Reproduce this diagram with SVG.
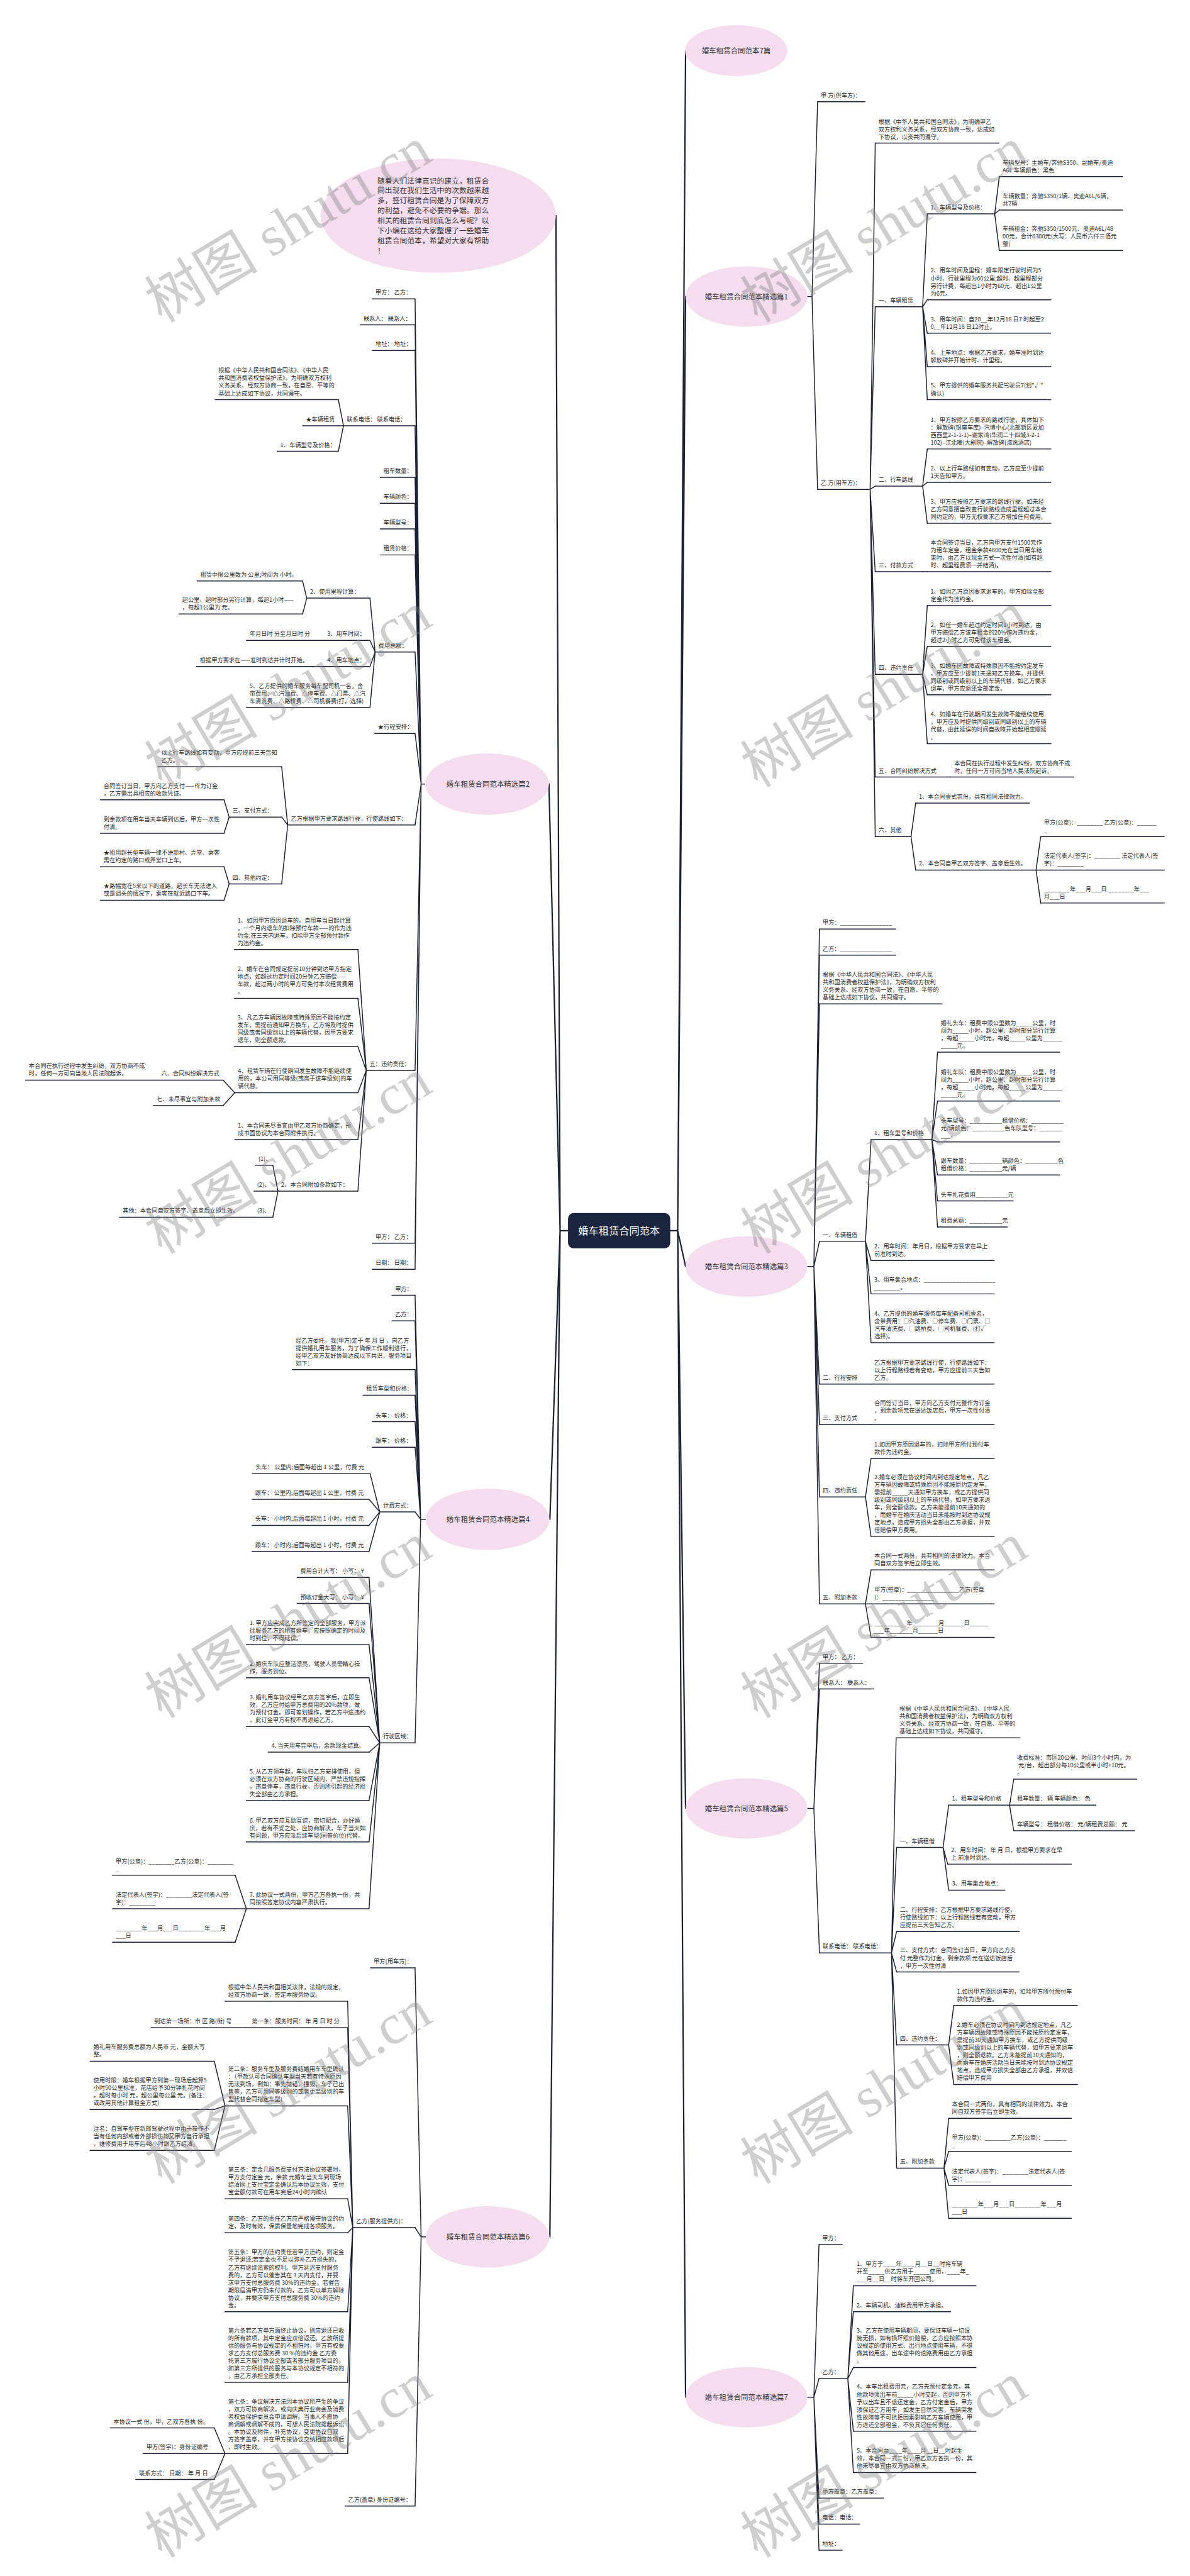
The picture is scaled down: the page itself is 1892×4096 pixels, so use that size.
<svg xmlns="http://www.w3.org/2000/svg" width="1892" height="4096" viewBox="0 0 1892 4096">
<style>
.t{font-family:"Noto Sans CJK SC","Noto Sans",sans-serif;font-size:12.5px;fill:#2b2b2b}
.u{stroke:#1c2233;stroke-width:2;fill:none;stroke-linecap:round}
.c{stroke:#1c2233;stroke-width:2;fill:none;stroke-linecap:round}
.tr{stroke:#1c2233;stroke-width:3;fill:none;stroke-linecap:round}
.el{fill:#f5dcef}
.et{font-family:"Noto Sans CJK SC","Noto Sans",sans-serif;font-size:15.5px;fill:#333;text-anchor:middle}
.st{font-family:"Noto Sans CJK SC","Noto Sans",sans-serif;font-size:16px;fill:#333}
.wm{font-family:"Liberation Serif","Noto Sans CJK SC",serif;font-size:122px;fill:#808080;opacity:.38}
</style>
<rect width="1892" height="4096" fill="#fff"/>
<g transform="scale(0.739)">
<g id="connectors">
<path class="tr" d="M1442 2648H1458 M1458 2648L1475 109 M1458 2648L1475 638 M1458 2648L1475 2725 M1458 2648L1475 3891 M1458 2648L1475 5158"/>
<path class="tr" d="M1222 2648H1205 M1205 2648L1196 464 M1205 2648L1181 1687 M1205 2648L1183 3269 M1205 2648L1183 4813"/>
<path class="c" d="M1737 638H1747 M1747 638L1759 219 M1747 638L1759 1053
M1872 1053L1883 308 M1872 1053L1883 660 M1872 1053L1883 1046 M1872 1053L1883 1230 M1872 1053L1883 1451 M1872 1053L1883 1672 M1872 1053L1883 1800
M1985 660L1995 460 M1985 660L1995 645 M1985 660L1995 717 M1985 660L1995 789 M1985 660L1995 860
M2140 460L2150 380 M2140 460L2150 452 M2140 460L2150 539
M1985 1046L1995 966 M1985 1046L1995 1038 M1985 1046L1995 1126
M1985 1230H1995
M1985 1451L1995 1303 M1985 1451L1995 1391 M1985 1451L1995 1495 M1985 1451L1995 1600
M1960 1800L1970 1728 M1960 1800L1970 1872
M2229 1872L2239 1800 M2229 1872H2239 M2229 1872L2239 1943"/>
<path class="c" d="M1737 2725H1751 M1751 2725L1763 1999 M1751 2725L1763 2055 M1751 2725L1763 2160 M1751 2725L1763 2671 M1751 2725L1763 2978 M1751 2725L1763 3065 M1751 2725L1763 3221 M1751 2725L1763 3451
M1862 2671L1874 2452 M1862 2671L1874 2712 M1862 2671L1874 2784 M1862 2671L1874 2889
M2005 2452L2017 2264 M2005 2452L2017 2369 M2005 2452L2017 2457 M2005 2452L2017 2528 M2005 2452L2017 2584 M2005 2452L2017 2640
M1862 3221L1874 3138 M1862 3221L1874 3306
M1862 3451L1874 3378 M1862 3451H1874 M1862 3451L1874 3523"/>
<path class="c" d="M1737 3891H1751 M1751 3891L1763 3579 M1751 3891L1763 3634 M1751 3891L1763 4202
M1918 4202L1928 3739 M1918 4202L1929 3975 M1918 4202L1929 4156 M1918 4202L1929 4243 M1918 4202L1929 4400 M1918 4202L1929 4665
M2029 3975L2041 3884 M2029 3975L2039 4011 M2029 3975L2041 4067
M2172 3884L2181 3828 M2172 3884H2181 M2172 3884L2181 3939
M2041 4400L2052 4315 M2041 4400L2052 4485
M2031 4665L2041 4558 M2031 4665L2041 4629 M2031 4665L2041 4702 M2031 4665L2041 4773"/>
<path class="c" d="M1737 5158H1751 M1751 5158L1762 4829 M1751 5158L1762 5118 M1751 5158L1762 5375 M1751 5158L1762 5431 M1751 5158L1762 5487
M1824 5118L1836 4918 M1824 5118L1836 4974 M1824 5118L1836 5094 M1824 5118L1836 5231 M1824 5118L1836 5320"/>
<path class="c" d="M914 1687H906 M906 1687L893 643 M906 1687L893 699 M906 1687L893 754 M906 1687L893 916 M906 1687L893 1027 M906 1687L893 1083 M906 1687L893 1138 M906 1687L893 1194 M906 1687L893 1403 M906 1687L893 1578 M906 1687L893 1775 M906 1687L893 2303 M906 1687L893 2675 M906 1687L893 2731
M739 916L728 860 M739 916H728 M739 916L728 971
M807 1403L796 1287 M807 1403L796 1378 M807 1403L796 1434 M807 1403L796 1522
M660 1287L651 1250 M660 1287L651 1321
M619 1775L606 1650 M619 1775L606 1758 M619 1775L606 1902
M493 1758L482 1721 M493 1758L482 1793
M493 1902L482 1865 M493 1902L482 1937
M788 2303L770 2043 M788 2303L770 2148 M788 2303L770 2252 M788 2303L770 2351 M788 2303L770 2452 M788 2303L770 2563
M505 2351L480 2324 M505 2351L480 2379
M598 2563L587 2507 M598 2563H587 M598 2563L587 2619"/>
<path class="c" d="M916 3269H905 M905 3269L893 2787 M905 3269L893 2842 M905 3269L893 2947 M905 3269L893 3002 M905 3269L893 3059 M905 3269L893 3114 M905 3269L893 3253 M905 3269L893 3750
M817 3253L796 3170 M817 3253L794 3226 M817 3253L794 3282 M817 3253L794 3338
M817 3750L794 3394 M817 3750L794 3450 M817 3750L794 3539 M817 3750L794 3610 M817 3750L794 3715 M817 3750L794 3770 M817 3750L794 3874 M817 3750L794 3963 M817 3750L794 4107
M530 4107L506 4035 M530 4107H506 M530 4107L506 4179"/>
<path class="c" d="M917 4813H906 M906 4813L893 4234 M906 4813L893 4793 M906 4813L893 5392
M759 4793L748 4306 M759 4793L748 4363 M759 4793L748 4531 M759 4793L748 4731 M759 4793L748 4804 M759 4793L748 4974 M759 4793L748 5126 M759 4793L748 5279
M535 4363H528
M484 4531L461 4435 M484 4531L461 4539 M484 4531L461 4627
M484 5279L461 5224 M484 5279L469 5279 M484 5279L461 5335"/>
</g>

<g id="center"><rect x="1222" y="2610" width="220" height="76" rx="12" fill="#1b2540"/><text x="1332" y="2656" font-family="Noto Sans CJK SC, sans-serif" font-size="22" fill="#fff" text-anchor="middle">婚车租赁合同范本</text></g>

<g id="summary"><ellipse class="el" cx="943" cy="464" rx="253" ry="123"/><text class="st" x="812" y="394.5">随着人们法律意识的建立，租赁合<tspan x="812" dy="21.6">同出现在我们生活中的次数越来越</tspan><tspan x="812" dy="21.6">多，签订租赁合同是为了保障双方</tspan><tspan x="812" dy="21.6">的利益，避免不必要的争端。那么</tspan><tspan x="812" dy="21.6">相关的租赁合同到底怎么写呢？以</tspan><tspan x="812" dy="21.6">下小编在这给大家整理了一些婚车</tspan><tspan x="812" dy="21.6">租赁合同范本，希望对大家有帮助</tspan><tspan x="812" dy="21.6">！</tspan></text></g>

<g id="e0"><ellipse class="el" cx="1584" cy="109" rx="110" ry="55"/><text class="et" x="1584" y="114.5">婚车租赁合同范本7篇</text></g>
<g id="e1"><ellipse class="el" cx="1606" cy="638" rx="131" ry="65"/><text class="et" x="1606" y="643.5">婚车租赁合同范本精选篇1</text></g>
<g id="e3"><ellipse class="el" cx="1606" cy="2725" rx="131" ry="65"/><text class="et" x="1606" y="2730.5">婚车租赁合同范本精选篇3</text></g>
<g id="e5"><ellipse class="el" cx="1606" cy="3891" rx="131" ry="65"/><text class="et" x="1606" y="3896.5">婚车租赁合同范本精选篇5</text></g>
<g id="e7"><ellipse class="el" cx="1606" cy="5158" rx="131" ry="65"/><text class="et" x="1606" y="5163.5">婚车租赁合同范本精选篇7</text></g>
<g id="e2"><ellipse class="el" cx="1048" cy="1687" rx="133" ry="66"/><text class="et" x="1050" y="1692.5">婚车租赁合同范本精选篇2</text></g>
<g id="e4"><ellipse class="el" cx="1049" cy="3269" rx="133" ry="66"/><text class="et" x="1050" y="3274.5">婚车租赁合同范本精选篇4</text></g>
<g id="e6"><ellipse class="el" cx="1049" cy="4813" rx="133" ry="66"/><text class="et" x="1050" y="4818.5">婚车租赁合同范本精选篇6</text></g>

<!-- 篇1 -->
<g id="r1a"><text class="t" x="1766" y="209.5">甲 方(供车方)：</text><path class="u" d="M1759 219H1861"/></g>
<g id="r1b"><text class="t" x="1766" y="1043.5">乙 方(用车方)：</text><path class="u" d="M1759 1053H1872"/></g>
<g id="r1b1"><text class="t" x="1890" y="265.9">根据《中华人民共和国合同法》，为明确甲乙<tspan x="1890" dy="16.3">双方权利义务关系，经双方协商一致，达成如</tspan><tspan x="1890" dy="16.3">下协议，以资共同遵守。</tspan></text><path class="u" d="M1883 308H2149"/></g>
<g id="r1b2"><text class="t" x="1890" y="650.5">一、车辆租赁</text><path class="u" d="M1883 660H1985"/></g>
<g id="r1b2a"><text class="t" x="2002" y="450.5">1、车辆型号及价格：</text><path class="u" d="M1995 460H2140"/></g>
<g id="r1b2a1"><text class="t" x="2157" y="354.2">车辆型号：主婚车/奔驰S350、副婚车/奥迪<tspan x="2157" dy="16.3">A6L 车辆颜色：黑色</tspan></text><path class="u" d="M2150 380H2415"/></g>
<g id="r1b2a2"><text class="t" x="2157" y="426.2">车辆数量：奔驰S350/1辆、奥迪A6L/6辆，<tspan x="2157" dy="16.3">共7辆</tspan></text><path class="u" d="M2150 452H2415"/></g>
<g id="r1b2a3"><text class="t" x="2157" y="496.9">车辆租金：奔驰S350/1500元、奥迪A6L/48<tspan x="2157" dy="16.3">00元，合计6300元(大写：人民币六仟三佰元</tspan><tspan x="2157" dy="16.3">整)</tspan></text><path class="u" d="M2150 539H2415"/></g>
<g id="r1b2b"><text class="t" x="2002" y="586.6">2、用车时间及里程：婚车限定行驶时间为5<tspan x="2002" dy="16.3">小时、行驶里程为60公里;超时、超里程部分</tspan><tspan x="2002" dy="16.3">另行计费，每超出1小时为60元、超出1公里</tspan><tspan x="2002" dy="16.3">为6元。</tspan></text><path class="u" d="M1995 645H2261"/></g>
<g id="r1b2c"><text class="t" x="2002" y="691.2">3、用车时间：自20__年12月18 日7 时起至2<tspan x="2002" dy="16.3">0__年12月18 日12时止。</tspan></text><path class="u" d="M1995 717H2261"/></g>
<g id="r1b2d"><text class="t" x="2002" y="763.2">4、上车地点：根据乙方要求，婚车准时到达<tspan x="2002" dy="16.3">解放碑并开始计时、计里程。</tspan></text><path class="u" d="M1995 789H2261"/></g>
<g id="r1b2e"><text class="t" x="2002" y="834.2">5、甲方提供的婚车服务共配驾驶员7(划"√"<tspan x="2002" dy="16.3">确认)</tspan></text><path class="u" d="M1995 860H2261"/></g>
<g id="r1b3"><text class="t" x="1890" y="1036.5">二、行车路线</text><path class="u" d="M1883 1046H1985"/></g>
<g id="r1b3a"><text class="t" x="2002" y="907.6">1、甲方按照乙方要求的路线行驶，具体如下<tspan x="2002" dy="16.3">：解放碑(银座车库)–汽博中心(北部新区爱加</tspan><tspan x="2002" dy="16.3">西西里2-1-1-1)–谢家湾(华润二十四城3-2-1</tspan><tspan x="2002" dy="16.3">102)–江北嘴(大剧院)–解放碑(海逸酒店)</tspan></text><path class="u" d="M1995 966H2261"/></g>
<g id="r1b3b"><text class="t" x="2002" y="1012.2">2、以上行车路线如有变动，乙方应至少提前<tspan x="2002" dy="16.3">1天告知甲方。</tspan></text><path class="u" d="M1995 1038H2261"/></g>
<g id="r1b3c"><text class="t" x="2002" y="1083.9">3、甲方应按照乙方要求的路线行驶，如未经<tspan x="2002" dy="16.3">乙方同意擅自改变行驶路线造成里程超过本合</tspan><tspan x="2002" dy="16.3">同约定的，甲方无权要求乙方增加任何费用。</tspan></text><path class="u" d="M1995 1126H2261"/></g>
<g id="r1b4"><text class="t" x="1890" y="1220.5">三、付款方式</text><path class="u" d="M1883 1230H1985"/></g>
<g id="r1b4a"><text class="t" x="2002" y="1171.6">本合同签订当日，乙方向甲方支付1500元作<tspan x="2002" dy="16.3">为租车定金，租金余款4800元在当日用车结</tspan><tspan x="2002" dy="16.3">束时，由乙方以现金方式一次性付清(如有超</tspan><tspan x="2002" dy="16.3">时、超里程费须一并结清)。</tspan></text><path class="u" d="M1995 1230H2261"/></g>
<g id="r1b5"><text class="t" x="1890" y="1441.5">四、违约责任</text><path class="u" d="M1883 1451H1985"/></g>
<g id="r1b5a"><text class="t" x="2002" y="1277.2">1、如因乙方原因要求退车的，甲方扣除全部<tspan x="2002" dy="16.3">定金作为违约金。</tspan></text><path class="u" d="M1995 1303H2261"/></g>
<g id="r1b5b"><text class="t" x="2002" y="1348.9">2、如任一婚车超过约定时间1小时到达，由<tspan x="2002" dy="16.3">甲方赔偿乙方该车租金的20%作为违约金，</tspan><tspan x="2002" dy="16.3">超过2小时乙方可免付该车租金。</tspan></text><path class="u" d="M1995 1391H2261"/></g>
<g id="r1b5c"><text class="t" x="2002" y="1436.6">3、如婚车因故障或特殊原因不能按约定发车<tspan x="2002" dy="16.3">，甲方应至少提前1天通知乙方换车，并提供</tspan><tspan x="2002" dy="16.3">同级别或同级别以上的车辆代替，如乙方要求</tspan><tspan x="2002" dy="16.3">退车，甲方应退还全部定金。</tspan></text><path class="u" d="M1995 1495H2261"/></g>
<g id="r1b5d"><text class="t" x="2002" y="1541.6">4、如婚车在行驶期间发生故障不能继续使用<tspan x="2002" dy="16.3">，甲方应及时提供同级别或同级别以上的车辆</tspan><tspan x="2002" dy="16.3">代替，由此延误的时间自故障开始起相应顺延</tspan><tspan x="2002" dy="16.3">。</tspan></text><path class="u" d="M1995 1600H2261"/></g>
<g id="r1b6"><text class="t" x="1890" y="1662.5">五、合同纠纷解决方式</text><path class="u" d="M1883 1672H2045"/></g>
<g id="r1b6a"><text class="t" x="2053" y="1646.2">本合同在执行过程中发生纠纷，双方协商不成<tspan x="2053" dy="16.3">时，任何一方可向当地人民法院起诉。</tspan></text><path class="u" d="M2045 1672H2310"/></g>
<g id="r1b7"><text class="t" x="1890" y="1790.5">六、其他</text><path class="u" d="M1883 1800H1960"/></g>
<g id="r1b7a"><text class="t" x="1977" y="1718.5">1、本合同壹式贰份，具有相同法律效力。</text><path class="u" d="M1970 1728H2215"/></g>
<g id="r1b7b"><text class="t" x="1977" y="1862.5">2、本合同自甲乙双方签字、盖章后生效。</text><path class="u" d="M1970 1872H2229"/></g>
<g id="r1b7b1"><text class="t" x="2246" y="1774.2">甲方(公章)：________ 乙方(公章)：______<tspan x="2246" dy="16.3">_</tspan></text><path class="u" d="M2239 1800H2505"/></g>
<g id="r1b7b2"><text class="t" x="2246" y="1846.2">法定代表人(签字)：________ 法定代表人(签<tspan x="2246" dy="16.3">字)：________</tspan></text><path class="u" d="M2239 1872H2505"/></g>
<g id="r1b7b3"><text class="t" x="2246" y="1917.2">________年___月___日 ________年___<tspan x="2246" dy="16.3">月___日</tspan></text><path class="u" d="M2239 1943H2505"/></g>

<!-- 篇3 -->
<g id="r3a"><text class="t" x="1770" y="1989.5">甲方：________________</text><path class="u" d="M1763 1999H1927"/></g>
<g id="r3b"><text class="t" x="1770" y="2045.5">乙方：________________</text><path class="u" d="M1763 2055H1927"/></g>
<g id="r3c"><text class="t" x="1770" y="2101.6">根据《中华人民共和国合同法》、《中华人民<tspan x="1770" dy="16.3">共和国消费者权益保护法》，为明确双方权利</tspan><tspan x="1770" dy="16.3">义务关系、经双方协商一致，在自愿、平等的</tspan><tspan x="1770" dy="16.3">基础上达成如下协议，共同遵守。</tspan></text><path class="u" d="M1763 2160H2027"/></g>
<g id="r3d"><text class="t" x="1770" y="2661.5">一、车辆租借</text><path class="u" d="M1763 2671H1862"/></g>
<g id="r3d1"><text class="t" x="1881" y="2442.5">1、租车型号和价格</text><path class="u" d="M1874 2452H2005"/></g>
<g id="r3d1a"><text class="t" x="2024" y="2205.6">婚礼头车：租费中限公里数为_____公里，时<tspan x="2024" dy="16.3">间为_____小时，超公里、超时部分另行计算</tspan><tspan x="2024" dy="16.3">，每超_____小时元，每超_____公里为______</tspan><tspan x="2024" dy="16.3">_____元。</tspan></text><path class="u" d="M2017 2264H2280"/></g>
<g id="r3d1b"><text class="t" x="2024" y="2310.6">婚礼车队：租费中限公里数为_____公里，时<tspan x="2024" dy="16.3">间为_____小时，超公里、超时部分另行计算</tspan><tspan x="2024" dy="16.3">，每超_____小时元，每超_____公里为______</tspan><tspan x="2024" dy="16.3">_____元。</tspan></text><path class="u" d="M2017 2369H2280"/></g>
<g id="r3d1c"><text class="t" x="2024" y="2414.9">头车型号：__________租借价格：__________<tspan x="2024" dy="16.3">元/辆颜色：__________色车队型号：_______</tspan><tspan x="2024" dy="16.3">___。</tspan></text><path class="u" d="M2017 2457H2280"/></g>
<g id="r3d1d"><text class="t" x="2024" y="2502.2">跟车数量：__________辆颜色：__________色<tspan x="2024" dy="16.3">租借价格：__________元/辆</tspan></text><path class="u" d="M2017 2528H2280"/></g>
<g id="r3d1e"><text class="t" x="2024" y="2574.5">头车扎花费用__________元</text><path class="u" d="M2017 2584H2180"/></g>
<g id="r3d1f"><text class="t" x="2024" y="2630.5">租费总额：__________元</text><path class="u" d="M2017 2640H2167"/></g>
<g id="r3d2"><text class="t" x="1881" y="2686.2">2、用车时间：年月日，根据甲方要求在早上<tspan x="1881" dy="16.3">前准时到达。</tspan></text><path class="u" d="M1874 2712H2139"/></g>
<g id="r3d3"><text class="t" x="1881" y="2758.2">3、用车集合地点：______________________<tspan x="1881" dy="16.3">________。</tspan></text><path class="u" d="M1874 2784H2139"/></g>
<g id="r3d4"><text class="t" x="1881" y="2830.6">4、乙方提供的婚车服务每车配备司机壹名，<tspan x="1881" dy="16.3">含带费用：□汽油费、□停车费、□门票、□</tspan><tspan x="1881" dy="16.3">汽车清洗费、□路桥费、□司机餐费、(打√</tspan><tspan x="1881" dy="16.3">选择)。</tspan></text><path class="u" d="M1874 2889H2139"/></g>
<g id="r3e"><text class="t" x="1770" y="2968.5">二、行程安排</text><path class="u" d="M1763 2978H1874"/></g>
<g id="r3e1"><text class="t" x="1881" y="2935.9">乙方根据甲方要求路线行使，行使路线如下：<tspan x="1881" dy="16.3">以上行程路线若有变动，甲方应提前三天告知</tspan><tspan x="1881" dy="16.3">乙方。</tspan></text><path class="u" d="M1874 2978H2139"/></g>
<g id="r3f"><text class="t" x="1770" y="3055.5">三、支付方式</text><path class="u" d="M1763 3065H1874"/></g>
<g id="r3f1"><text class="t" x="1881" y="3022.9">合同签订当日，甲方向乙方支付元整作为订金<tspan x="1881" dy="16.3">，剩余款项元在送达饭店后，甲方一次性付清</tspan><tspan x="1881" dy="16.3">。</tspan></text><path class="u" d="M1874 3065H2139"/></g>
<g id="r3g"><text class="t" x="1770" y="3211.5">四、违约责任</text><path class="u" d="M1763 3221H1862"/></g>
<g id="r3g1"><text class="t" x="1881" y="3112.2">1.如因甲方原因退车的，扣除甲方所付预付车<tspan x="1881" dy="16.3">款作为违约金。</tspan></text><path class="u" d="M1874 3138H2139"/></g>
<g id="r3g2"><text class="t" x="1881" y="3182.4">2.婚车必须在协议时间内到达规定地点，凡乙<tspan x="1881" dy="16.3">方车辆因故障或特殊原因不能按原约定发车，</tspan><tspan x="1881" dy="16.3">需提前_____天通知甲方换车，或乙方提供同</tspan><tspan x="1881" dy="16.3">级别或同级别以上的车辆代替，如甲方要求退</tspan><tspan x="1881" dy="16.3">车，则全额退款。乙方未能提前10天通知的</tspan><tspan x="1881" dy="16.3">，而婚车在婚庆活动当日未能按时到达协议规</tspan><tspan x="1881" dy="16.3">定地点，造成甲方损失全部由乙方承担，并双</tspan><tspan x="1881" dy="16.3">倍赔偿甲方费用。</tspan></text><path class="u" d="M1874 3306H2139"/></g>
<g id="r3h"><text class="t" x="1770" y="3441.5">五、附加条款</text><path class="u" d="M1763 3451H1862"/></g>
<g id="r3h1"><text class="t" x="1881" y="3352.2">本合同一式两份，具有相同的法律效力。本合<tspan x="1881" dy="16.3">同自双方签字后立即生效。</tspan></text><path class="u" d="M1874 3378H2139"/></g>
<g id="r3h2"><text class="t" x="1881" y="3425.2">甲方(签章)：________________乙方(签章<tspan x="1881" dy="16.3">)：________________</tspan></text><path class="u" d="M1874 3451H2139"/></g>
<g id="r3h3"><text class="t" x="1881" y="3497.2">__________年________月______日______<tspan x="1881" dy="16.3">___年_______月______日</tspan></text><path class="u" d="M1874 3523H2139"/></g>

<!-- 篇5 -->
<g id="r5a"><text class="t" x="1770" y="3569.5">甲方：  乙方：</text><path class="u" d="M1763 3579H1856"/></g>
<g id="r5b"><text class="t" x="1770" y="3624.5">联系人：  联系人：</text><path class="u" d="M1763 3634H1880"/></g>
<g id="r5c"><text class="t" x="1770" y="4192.5">联系电话：  联系电话：</text><path class="u" d="M1763 4202H1918"/></g>
<g id="r5c1"><text class="t" x="1935" y="3680.6">根据《中华人民共和国合同法》、《中华人民<tspan x="1935" dy="16.3">共和国消费者权益保护法》，为明确双方权利</tspan><tspan x="1935" dy="16.3">义务关系、经双方协商一致，在自愿、平等的</tspan><tspan x="1935" dy="16.3">基础上达成如下协议，共同遵守。</tspan></text><path class="u" d="M1928 3739H2194"/></g>
<g id="r5c2"><text class="t" x="1936" y="3965.5">一、车辆租借</text><path class="u" d="M1929 3975H2029"/></g>
<g id="r5c2a"><text class="t" x="2048" y="3874.5">1、租车型号和价格</text><path class="u" d="M2041 3884H2172"/></g>
<g id="r5c2a1"><text class="t" x="2188" y="3785.9">收费标准：市区20公里、时间3个小时内，为<tspan x="2188" dy="16.3"> 元/台，超出部分每10公里或半小时+10元。</tspan><tspan x="2188" dy="16.3">。</tspan></text><path class="u" d="M2181 3828H2446"/></g>
<g id="r5c2a2"><text class="t" x="2188" y="3874.5">租车数量： 辆 车辆颜色： 色</text><path class="u" d="M2181 3884H2358"/></g>
<g id="r5c2a3"><text class="t" x="2188" y="3929.5">车辆型号： 租借价格： 元/辆租费总额： 元</text><path class="u" d="M2181 3939H2441"/></g>
<g id="r5c2b"><text class="t" x="2046" y="3985.2">2、用车时间： 年 月 日，根据甲方要求在早<tspan x="2046" dy="16.3">上 前准时到达。</tspan></text><path class="u" d="M2039 4011H2305"/></g>
<g id="r5c2c"><text class="t" x="2048" y="4057.5">3、用车集合地点：</text><path class="u" d="M2041 4067H2162"/></g>
<g id="r5c3"><text class="t" x="1936" y="4113.9">二、行程安排：乙方根据甲方要求路线行使，<tspan x="1936" dy="16.3">行使路线如下：以上行程路线若有变动，甲方</tspan><tspan x="1936" dy="16.3">应提前三天告知乙方。</tspan></text><path class="u" d="M1929 4156H2193"/></g>
<g id="r5c4"><text class="t" x="1936" y="4200.9">三、支付方式：合同签订当日，甲方向乙方支<tspan x="1936" dy="16.3">付 元整作为订金，剩余款项 元在送达饭店后</tspan><tspan x="1936" dy="16.3">，甲方一次性付清</tspan></text><path class="u" d="M1929 4243H2193"/></g>
<g id="r5c5"><text class="t" x="1936" y="4390.5">四、违约责任：</text><path class="u" d="M1929 4400H2041"/></g>
<g id="r5c5a"><text class="t" x="2059" y="4289.2">1.如因甲方原因退车的，扣除甲方所付预付车<tspan x="2059" dy="16.3">款作为违约金。</tspan></text><path class="u" d="M2052 4315H2318"/></g>
<g id="r5c5b"><text class="t" x="2059" y="4361.4">2.婚车必须在协议时间内到达规定地点，凡乙<tspan x="2059" dy="16.3">方车辆因故障或特殊原因不能按原约定发车，</tspan><tspan x="2059" dy="16.3">需提前30天通知甲方换车，或乙方提供同级</tspan><tspan x="2059" dy="16.3">别或同级别以上的车辆代替，如甲方要求退车</tspan><tspan x="2059" dy="16.3">，则全额退款。乙方未能提前30天通知的，</tspan><tspan x="2059" dy="16.3">而婚车在婚庆活动当日未能按时到达协议规定</tspan><tspan x="2059" dy="16.3">地点，造成甲方损失全部由乙方承担，并双倍</tspan><tspan x="2059" dy="16.3">赔偿甲方费用</tspan></text><path class="u" d="M2052 4485H2318"/></g>
<g id="r5c6"><text class="t" x="1936" y="4655.5">五、附加条款</text><path class="u" d="M1929 4665H2031"/></g>
<g id="r5c6a"><text class="t" x="2048" y="4532.2">本合同一式两份，具有相同的法律效力。本合<tspan x="2048" dy="16.3">同自双方签字后立即生效。</tspan></text><path class="u" d="M2041 4558H2305"/></g>
<g id="r5c6b"><text class="t" x="2048" y="4603.2">甲方(公章)：________乙方(公章)：_______<tspan x="2048" dy="16.3">_</tspan></text><path class="u" d="M2041 4629H2305"/></g>
<g id="r5c6c"><text class="t" x="2048" y="4676.2">法定代表人(签字)：________法定代表人(签<tspan x="2048" dy="16.3">字)：________</tspan></text><path class="u" d="M2041 4702H2305"/></g>
<g id="r5c6d"><text class="t" x="2048" y="4747.2">________年___月___日________年___月<tspan x="2048" dy="16.3">___日</tspan></text><path class="u" d="M2041 4773H2305"/></g>

<!-- 篇7 -->
<g id="r7a"><text class="t" x="1769" y="4819.5">甲方：</text><path class="u" d="M1762 4829H1812"/></g>
<g id="r7b"><text class="t" x="1769" y="5108.5">乙方：</text><path class="u" d="M1762 5118H1824"/></g>
<g id="r7b1"><text class="t" x="1843" y="4875.9">1、甲方于____年____月__日__时将车辆<tspan x="1843" dy="16.3">开至_____供乙方用于_____使用，____年_</tspan><tspan x="1843" dy="16.3">___月__日__时将车开回公司。</tspan></text><path class="u" d="M1836 4918H2100"/></g>
<g id="r7b2"><text class="t" x="1843" y="4964.5">2、车辆司机、油料费用甲方承担。</text><path class="u" d="M1836 4974H2045"/></g>
<g id="r7b3"><text class="t" x="1843" y="5019.3">3、乙方在使用车辆期间，要保证车辆一切设<tspan x="1843" dy="16.3">施无损，如有损坏照价赔偿，乙方应按照本协</tspan><tspan x="1843" dy="16.3">议规定的使用方式、出行地点使用车辆，不得</tspan><tspan x="1843" dy="16.3">做其他用途，出车途中的道路费用由乙方承担</tspan><tspan x="1843" dy="16.3">。</tspan></text><path class="u" d="M1836 5094H2100"/></g>
<g id="r7b4"><text class="t" x="1843" y="5140">4、本车出租费用元，乙方先预付定金元，其<tspan x="1843" dy="16.3">他款项须出车前_____小时交起，否则甲方不</tspan><tspan x="1843" dy="16.3">予以出车且不退还定金，乙方付定金后，甲方</tspan><tspan x="1843" dy="16.3">须保证乙方用车，如发生自然灾害，车辆突发</tspan><tspan x="1843" dy="16.3">性故障等不可抗拒因素影响乙方车辆使用，甲</tspan><tspan x="1843" dy="16.3">方退还全部租金，不负其它任何责任。</tspan></text><path class="u" d="M1836 5231H2100"/></g>
<g id="r7b5"><text class="t" x="1843" y="5277.9">5、本合同由____年____月__日__时起生<tspan x="1843" dy="16.3">效，本合同一式二份，甲乙双方各执一份，其</tspan><tspan x="1843" dy="16.3">他未尽事宜由双方协商解决。</tspan></text><path class="u" d="M1836 5320H2100"/></g>
<g id="r7c"><text class="t" x="1769" y="5365.5">甲方盖章：乙方盖章：</text><path class="u" d="M1762 5375H1901"/></g>
<g id="r7d"><text class="t" x="1769" y="5421.5">电话：电话：</text><path class="u" d="M1762 5431H1850"/></g>
<g id="r7e"><text class="t" x="1769" y="5477.5">地址：</text><path class="u" d="M1762 5487H1812"/></g>

<!-- 篇2 -->
<g id="l2a"><text class="t" x="808" y="633.5">甲方：  乙方：</text><path class="u" d="M801 643H893"/></g>
<g id="l2b"><text class="t" x="782" y="689.5">联系人：  联系人：</text><path class="u" d="M775 699H893"/></g>
<g id="l2c"><text class="t" x="808" y="744.5">地址：  地址：</text><path class="u" d="M801 754H893"/></g>
<g id="l2d"><text class="t" x="746" y="906.5">联系电话：  联系电话：</text><path class="u" d="M739 916H893"/></g>
<g id="l2d1"><text class="t" x="470" y="801.6">根据《中华人民共和国合同法》、《中华人民<tspan x="470" dy="16.3">共和国消费者权益保护法》，为明确双方权利</tspan><tspan x="470" dy="16.3">义务关系、经双方协商一致，在自愿、平等的</tspan><tspan x="470" dy="16.3">基础上达成如下协议，共同遵守。</tspan></text><path class="u" d="M463 860H728"/></g>
<g id="l2d2"><text class="t" x="658" y="906.5">★车辆租赁</text><path class="u" d="M651 916H728"/></g>
<g id="l2d3"><text class="t" x="603" y="961.5">1、车辆型号及价格：</text><path class="u" d="M596 971H728"/></g>
<g id="l2e"><text class="t" x="825" y="1017.5">租车数量：</text><path class="u" d="M818 1027H893"/></g>
<g id="l2f"><text class="t" x="825" y="1073.5">车辆颜色：</text><path class="u" d="M818 1083H893"/></g>
<g id="l2g"><text class="t" x="825" y="1128.5">车辆型号：</text><path class="u" d="M818 1138H893"/></g>
<g id="l2h"><text class="t" x="825" y="1184.5">租赁价格：</text><path class="u" d="M818 1194H893"/></g>
<g id="l2i"><text class="t" x="814" y="1393.5">费用总额：</text><path class="u" d="M807 1403H893"/></g>
<g id="l2i1"><text class="t" x="667" y="1277.5">2、使用里程计算：</text><path class="u" d="M660 1287H796"/></g>
<g id="l2i1a"><text class="t" x="431" y="1240.5">租赁中限公里数为 公里;时间为 小时。</text><path class="u" d="M424 1250H651"/></g>
<g id="l2i1b"><text class="t" x="392" y="1295.2">超公里、超时部分另行计算，每超1小时——<tspan x="392" dy="16.3">，每超1公里为 元。</tspan></text><path class="u" d="M385 1321H651"/></g>
<g id="l2i2"><text class="t" x="704" y="1368.5">3、用车时间：</text><path class="u" d="M697 1378H796"/></g>
<g id="l2i2a"><text class="t" x="537" y="1368.5">年月日时 分至月日时 分</text><path class="u" d="M530 1378H697"/></g>
<g id="l2i3"><text class="t" x="704" y="1424.5">4、用车地点：</text><path class="u" d="M697 1434H796"/></g>
<g id="l2i3a"><text class="t" x="430" y="1424.5">根据甲方要求在——准时到达并计时开始。</text><path class="u" d="M423 1434H697"/></g>
<g id="l2i4"><text class="t" x="537" y="1479.9">5、乙方提供的婚车服务每车配司机一名，含<tspan x="537" dy="16.3">带费用：△汽油费、△停车费、△门票、△汽</tspan><tspan x="537" dy="16.3">车清洗费、△路桥费、△司机餐费(打√选择)</tspan></text><path class="u" d="M530 1522H796"/></g>
<g id="l2j"><text class="t" x="813" y="1568.5">★行程安排：</text><path class="u" d="M806 1578H893"/></g>
<g id="l2k"><text class="t" x="626" y="1765.5">乙方根据甲方要求路线行驶，行使路线如下：</text><path class="u" d="M619 1775H893"/></g>
<g id="l2k1"><text class="t" x="347" y="1624.2">以上行车路线如有变动，甲方应提前三天告知<tspan x="347" dy="16.3">乙方。</tspan></text><path class="u" d="M340 1650H606"/></g>
<g id="l2k2"><text class="t" x="500" y="1748.5">三、支付方式：</text><path class="u" d="M493 1758H606"/></g>
<g id="l2k2a"><text class="t" x="223" y="1695.2">合同签订当日，甲方向乙方支付——作为订金<tspan x="223" dy="16.3">，乙方需出具相应的收款凭证。</tspan></text><path class="u" d="M216 1721H482"/></g>
<g id="l2k2b"><text class="t" x="223" y="1767.2">剩余款项在用车当天车辆到达后，甲方一次性<tspan x="223" dy="16.3">付清。</tspan></text><path class="u" d="M216 1793H482"/></g>
<g id="l2k3"><text class="t" x="500" y="1892.5">四、其他约定：</text><path class="u" d="M493 1902H606"/></g>
<g id="l2k3a"><text class="t" x="223" y="1839.2">★租用超长型车辆一律不进新村、弄堂、乘客<tspan x="223" dy="16.3">需在约定的路口或弄堂口上车。</tspan></text><path class="u" d="M216 1865H482"/></g>
<g id="l2k3b"><text class="t" x="223" y="1911.2">★路幅宽在5米以下的道路，超长车无法进入<tspan x="223" dy="16.3">或是调头的情况下，乘客在就近路口下车。</tspan></text><path class="u" d="M216 1937H482"/></g>
<g id="l2l"><text class="t" x="795" y="2293.5">五：违约责任：</text><path class="u" d="M788 2303H893"/></g>
<g id="l2l1"><text class="t" x="511" y="1984.6">1、如因甲方原因退车的。自用车当日起计算<tspan x="511" dy="16.3">，一个月内退车的扣除预付车款——的作为违</tspan><tspan x="511" dy="16.3">约金;在三天内退车，扣除甲方全部预付款作</tspan><tspan x="511" dy="16.3">为违约金。</tspan></text><path class="u" d="M504 2043H770"/></g>
<g id="l2l2"><text class="t" x="511" y="2089.6">2、婚车在合同规定提前10分钟到达甲方指定<tspan x="511" dy="16.3">地点，如超过约定时间20分钟乙方赔偿——</tspan><tspan x="511" dy="16.3">车款，超过两小时的甲方可免付本次租赁费用</tspan><tspan x="511" dy="16.3">。</tspan></text><path class="u" d="M504 2148H770"/></g>
<g id="l2l3"><text class="t" x="511" y="2193.6">3、凡乙方车辆因故障或特殊原因不能按约定<tspan x="511" dy="16.3">发车，需提前通知甲方换车，乙方将及时提供</tspan><tspan x="511" dy="16.3">同级或者同级别以上的车辆代替，因甲方要求</tspan><tspan x="511" dy="16.3">退车，则全额退款。</tspan></text><path class="u" d="M504 2252H770"/></g>
<g id="l2l4"><text class="t" x="512" y="2308.9">4、租赁车辆在行使期间发生故障不能继续使<tspan x="512" dy="16.3">用的，本公司用同等级(或高于该车级别)的车</tspan><tspan x="512" dy="16.3">辆代替。</tspan></text><path class="u" d="M505 2351H770"/></g>
<g id="l2l4a"><text class="t" x="347" y="2314.5">六、合同纠纷解决方式</text><path class="u" d="M340 2324H480"/></g>
<g id="l2l4a1"><text class="t" x="62" y="2298.2">本合同在执行过程中发生纠纷，双方协商不成<tspan x="62" dy="16.3">时，任何一方可向当地人民法院起诉。</tspan></text><path class="u" d="M55 2324H340"/></g>
<g id="l2l4b"><text class="t" x="337" y="2369.5">七、未尽事宜与附加条款</text><path class="u" d="M330 2379H480"/></g>
<g id="l2l5"><text class="t" x="512" y="2426.2">1、本合同未尽事宜由甲乙双方协商确定，形<tspan x="512" dy="16.3">成书面协议为本合同附件执行。</tspan></text><path class="u" d="M505 2452H770"/></g>
<g id="l2l6"><text class="t" x="605" y="2553.5">2、本合同附加条款如下：</text><path class="u" d="M598 2563H770"/></g>
<g id="l2l6a"><text class="t" x="556" y="2497.5">(1)、</text><path class="u" d="M549 2507H587"/></g>
<g id="l2l6b"><text class="t" x="553" y="2553.5">(2)、</text><path class="u" d="M546 2563H587"/></g>
<g id="l2l6c"><text class="t" x="553" y="2609.5">(3)、</text><path class="u" d="M546 2619H587"/></g>
<g id="l2l6c1"><text class="t" x="264" y="2609.5">其他：本合同自双方签字、盖章后立即生效。</text><path class="u" d="M257 2619H546"/></g>
<g id="l2m"><text class="t" x="808" y="2665.5">甲方：  乙方：</text><path class="u" d="M801 2675H893"/></g>
<g id="l2n"><text class="t" x="808" y="2721.5">日期：  日期：</text><path class="u" d="M801 2731H893"/></g>

<!-- 篇4 -->
<g id="l4a"><text class="t" x="850" y="2777.5">甲方：</text><path class="u" d="M843 2787H893"/></g>
<g id="l4b"><text class="t" x="850" y="2832.5">乙方：</text><path class="u" d="M843 2842H893"/></g>
<g id="l4c"><text class="t" x="636" y="2888.6">经乙方委托，我(甲方)定于 年 月 日 ，向乙方<tspan x="636" dy="16.3">提供婚礼用车服务，为了确保工作顺利进行，</tspan><tspan x="636" dy="16.3">经甲乙双方友好协商达成以下共识，服务项目</tspan><tspan x="636" dy="16.3">如下：</tspan></text><path class="u" d="M629 2947H893"/></g>
<g id="l4d"><text class="t" x="788" y="2992.5">租赁车型和价格：</text><path class="u" d="M781 3002H893"/></g>
<g id="l4e"><text class="t" x="808" y="3049.5">头车：  价格：</text><path class="u" d="M801 3059H893"/></g>
<g id="l4f"><text class="t" x="808" y="3104.5">跟车：  价格：</text><path class="u" d="M801 3114H893"/></g>
<g id="l4g"><text class="t" x="824" y="3243.5">计费方式：</text><path class="u" d="M817 3253H893"/></g>
<g id="l4g1"><text class="t" x="550" y="3160.5">头车：  公里内;后面每超出 1 公里，付费 元</text><path class="u" d="M543 3170H796"/></g>
<g id="l4g2"><text class="t" x="549" y="3216.5">跟车：  公里内;后面每超出 1 公里，付费 元</text><path class="u" d="M542 3226H794"/></g>
<g id="l4g3"><text class="t" x="549" y="3272.5">头车：  小时内;后面每超出 1 小时，付费 元</text><path class="u" d="M542 3282H794"/></g>
<g id="l4g4"><text class="t" x="549" y="3328.5">跟车：  小时内;后面每超出 1 小时，付费 元</text><path class="u" d="M542 3338H794"/></g>
<g id="l4h"><text class="t" x="824" y="3740.5">行驶区域：</text><path class="u" d="M817 3750H893"/></g>
<g id="l4h1"><text class="t" x="646" y="3384.5">费用合计大写： 小写： ¥</text><path class="u" d="M639 3394H794"/></g>
<g id="l4h2"><text class="t" x="646" y="3440.5">预收订金大写： 小写： ¥</text><path class="u" d="M639 3450H794"/></g>
<g id="l4h3"><text class="t" x="537" y="3496.9">1. 甲方应完成乙方所签定的全部服务，甲方派<tspan x="537" dy="16.3">往服务乙方的所有婚车，应按照确定的时间及</tspan><tspan x="537" dy="16.3">时到位，不得延误。</tspan></text><path class="u" d="M530 3539H794"/></g>
<g id="l4h4"><text class="t" x="537" y="3584.2">2. 婚庆车队应整洁漂亮，驾驶人员需精心操<tspan x="537" dy="16.3">作，服务到位。</tspan></text><path class="u" d="M530 3610H794"/></g>
<g id="l4h5"><text class="t" x="537" y="3656.6">3. 婚礼用车协议经甲乙双方签字后，立即生<tspan x="537" dy="16.3">效，乙方应付给甲方总费用的20%款项，做</tspan><tspan x="537" dy="16.3">为预付订金。即可筹划操作，若乙方中途违约</tspan><tspan x="537" dy="16.3">，此订金甲方有权不再退给乙方。</tspan></text><path class="u" d="M530 3715H794"/></g>
<g id="l4h6"><text class="t" x="584" y="3760.5">4. 当天用车完毕后，余款现金结算。</text><path class="u" d="M577 3770H794"/></g>
<g id="l4h7"><text class="t" x="537" y="3815.6">5. 从乙方领车起，车队归乙方安排使用，但<tspan x="537" dy="16.3">必须在双方协商的行驶区域内，严禁违规指挥</tspan><tspan x="537" dy="16.3">，违章停车，违章行驶，否则所引起的经济损</tspan><tspan x="537" dy="16.3">失全部由乙方承担。</tspan></text><path class="u" d="M530 3874H794"/></g>
<g id="l4h8"><text class="t" x="537" y="3920.9">6. 甲乙双方应互助互谅，密切配合，办好婚<tspan x="537" dy="16.3">庆，若有不妥之处，应协商解决，车子当天如</tspan><tspan x="537" dy="16.3">有问题，甲方应派后续车型(同等价位)代替。</tspan></text><path class="u" d="M530 3963H794"/></g>
<g id="l4h9"><text class="t" x="537" y="4081.2">7. 此协议一式两份，甲方乙方各执一份，共<tspan x="537" dy="16.3">同按照签定协议内容严肃执行。</tspan></text><path class="u" d="M530 4107H794"/></g>
<g id="l4h9a"><text class="t" x="249" y="4009.2">甲方(公章)：________乙方(公章)：________<tspan x="249" dy="16.3">_</tspan></text><path class="u" d="M242 4035H506"/></g>
<g id="l4h9b"><text class="t" x="249" y="4081.2">法定代表人(签字)：________法定代表人(签<tspan x="249" dy="16.3">字)：________</tspan></text><path class="u" d="M242 4107H506"/></g>
<g id="l4h9c"><text class="t" x="249" y="4153.2">________年___月___日________年___月<tspan x="249" dy="16.3">___日</tspan></text><path class="u" d="M242 4179H506"/></g>

<!-- 篇6 -->
<g id="l6a"><text class="t" x="804" y="4224.5">甲方(用车方)：</text><path class="u" d="M797 4234H893"/></g>
<g id="l6b"><text class="t" x="766" y="4783.5">乙方(服务提供方)：</text><path class="u" d="M759 4793H893"/></g>
<g id="l6b1"><text class="t" x="491" y="4280.2">根据中华人民共和国相关法律，法规的规定，<tspan x="491" dy="16.3">经双方协商一致，签定本服务协议。</tspan></text><path class="u" d="M484 4306H748"/></g>
<g id="l6b2"><text class="t" x="542" y="4353.5">第一条：服务时间： 年 月 日 时 分</text><path class="u" d="M535 4363H748"/></g>
<g id="l6b2a"><text class="t" x="332" y="4353.5">到达第一场所：市 区 路(街) 号</text><path class="u" d="M325 4363H528"/></g>
<g id="l6b3"><text class="t" x="491" y="4456.3">第二条：服务车型及服务费结婚用车车型确认<tspan x="491" dy="16.3">：（甲放认可合同确认车型当天若有特殊原因</tspan><tspan x="491" dy="16.3">无法到场，例如：事先抛锚，撞毁，车子已出</tspan><tspan x="491" dy="16.3">售等，乙方可用同等级别的或者更高级别的车</tspan><tspan x="491" dy="16.3">型代替合同指定车型)</tspan></text><path class="u" d="M484 4531H748"/></g>
<g id="l6b3a"><text class="t" x="201" y="4409.2">婚礼用车服务费总额为人民币 元，金额大写<tspan x="201" dy="16.3">整。</tspan></text><path class="u" d="M194 4435H461"/></g>
<g id="l6b3b"><text class="t" x="201" y="4480.6">使用时限：婚车根据甲方到第一现场后起算5<tspan x="201" dy="16.3">小时50公里标准，花店给予30分钟扎花时间</tspan><tspan x="201" dy="16.3">，超时每小时 元，超公里每公里 元。(备注：</tspan><tspan x="201" dy="16.3">或改用其他计算租金方式）</tspan></text><path class="u" d="M194 4539H461"/></g>
<g id="l6b3c"><text class="t" x="201" y="4584.9">注名：自驾车型在新郎驾驶过程中由于操作不<tspan x="201" dy="16.3">当有任何内部或者外部损伤均又甲方自行承担</tspan><tspan x="201" dy="16.3">，维修费用于用车后48小时跟乙方结清。</tspan></text><path class="u" d="M194 4627H461"/></g>
<g id="l6b4"><text class="t" x="491" y="4672.6">第三条：定金几服务费支付方法协议签署时，<tspan x="491" dy="16.3">甲方支付定金 元，余款 元婚车当天车到现场</tspan><tspan x="491" dy="16.3">结清网上支付宝定金确认后本协议生效，支付</tspan><tspan x="491" dy="16.3">宝全额付款可在用车完后24小时内确认</tspan></text><path class="u" d="M484 4731H748"/></g>
<g id="l6b5"><text class="t" x="491" y="4778.2">第四条：乙方的责任乙方应严格遵守协议的约<tspan x="491" dy="16.3">定，及时有效，保质保量地完成各项服务。</tspan></text><path class="u" d="M484 4804H748"/></g>
<g id="l6b6"><text class="t" x="491" y="4850.4">第五条：甲方的违约责任若甲方违约，则定金<tspan x="491" dy="16.3">不予退还;若定金也不足以弥补乙方损失的，</tspan><tspan x="491" dy="16.3">乙方有继续追索的权利。甲方延迟支付服务</tspan><tspan x="491" dy="16.3">费的，乙方可以催告其在 3 天内支付，并要</tspan><tspan x="491" dy="16.3">求甲方支付总服务费 30%的违约金。若催告</tspan><tspan x="491" dy="16.3">期限届满甲方仍未付款的，乙方可以单方解除</tspan><tspan x="491" dy="16.3">协议，并要求甲方支付总服务费 30%的违约</tspan><tspan x="491" dy="16.3">金。</tspan></text><path class="u" d="M484 4974H748"/></g>
<g id="l6b7"><text class="t" x="491" y="5018.7">第六条若乙方单方面终止协议，则应退还已收<tspan x="491" dy="16.3">的所有款项，其中定金应双倍返还。乙放所提</tspan><tspan x="491" dy="16.3">供的服务与协议规定的不相符时，甲方有权要</tspan><tspan x="491" dy="16.3">求乙方支付总服务费 30 %的违约金 乙方委</tspan><tspan x="491" dy="16.3">托第三方履行协议全部或者部分服务项目的，</tspan><tspan x="491" dy="16.3">如第三方所提供的服务与本协议规定不相符的</tspan><tspan x="491" dy="16.3">，由乙方承担全部责任。</tspan></text><path class="u" d="M484 5126H748"/></g>
<g id="l6b8"><text class="t" x="491" y="5171.7">第七条：争议解决方法因本协议所产生的争议<tspan x="491" dy="16.3">，双方可协商解决，或向庆典行业商会及消费</tspan><tspan x="491" dy="16.3">者权益保护委员会申请调解。当事人不愿协</tspan><tspan x="491" dy="16.3">商调解或调解不成的，可想人民法院提起诉讼</tspan><tspan x="491" dy="16.3">。本协议及附件，补充协议，变更协议自双</tspan><tspan x="491" dy="16.3">方签字盖章，并在甲方按协议交纳相应款项后</tspan><tspan x="491" dy="16.3">，即时生效。</tspan></text><path class="u" d="M484 5279H748"/></g>
<g id="l6b8a"><text class="t" x="244" y="5214.5">本协议一式 份，甲，乙双方各执 份。</text><path class="u" d="M237 5224H461"/></g>
<g id="l6b8b"><text class="t" x="315" y="5269.5">甲方(签字)：身份证编号</text><path class="u" d="M308 5279H469"/></g>
<g id="l6b8c"><text class="t" x="299" y="5325.5">联系方式：  日期：  年  月  日</text><path class="u" d="M292 5335H461"/></g>
<g id="l6c"><text class="t" x="749" y="5382.5">乙方(盖章) 身份证编号：</text><path class="u" d="M742 5392H893"/></g>

<g id="watermarks">
<text class="wm" transform="translate(348 696) rotate(-31)">树图 shutu.cn</text>
<text class="wm" transform="translate(348 1696) rotate(-31)">树图 shutu.cn</text>
<text class="wm" transform="translate(348 2700) rotate(-31)">树图 shutu.cn</text>
<text class="wm" transform="translate(348 3699) rotate(-31)">树图 shutu.cn</text>
<text class="wm" transform="translate(348 4701) rotate(-31)">树图 shutu.cn</text>
<text class="wm" transform="translate(348 5505) rotate(-31)">树图 shutu.cn</text>
<text class="wm" transform="translate(1630 696) rotate(-31)">树图 shutu.cn</text>
<text class="wm" transform="translate(1630 1696) rotate(-31)">树图 shutu.cn</text>
<text class="wm" transform="translate(1630 2700) rotate(-31)">树图 shutu.cn</text>
<text class="wm" transform="translate(1630 3699) rotate(-31)">树图 shutu.cn</text>
<text class="wm" transform="translate(1630 4701) rotate(-31)">树图 shutu.cn</text>
<text class="wm" transform="translate(1630 5505) rotate(-31)">树图 shutu.cn</text>
</g>
</g>
</svg>
